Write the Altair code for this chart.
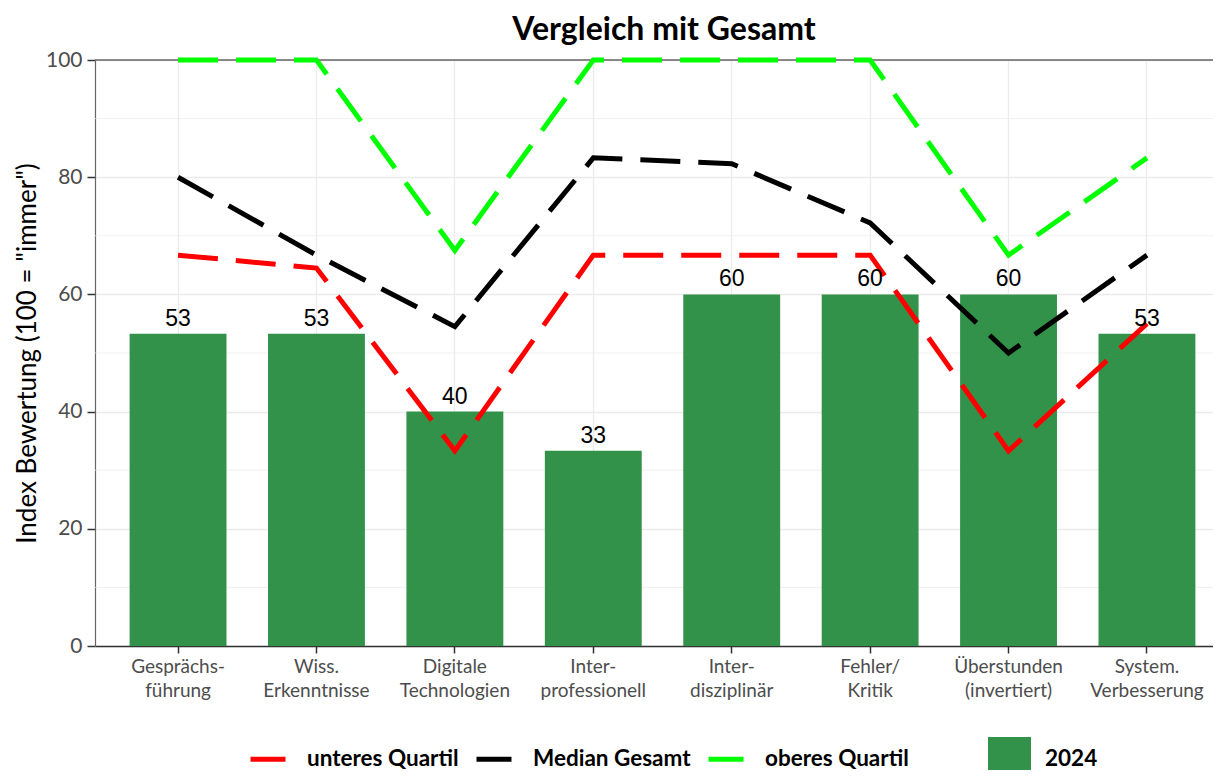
import altair as alt
import pandas as pd

categories = ["Gesprächs-|führung", "Wiss.|Erkenntnisse", "Digitale|Technologien",
              "Inter-|professionell", "Inter-|disziplinär", "Fehler/|Kritik",
              "Überstunden|(invertiert)", "System.|Verbesserung"]
values_2024 = [53.3, 53.3, 40.0, 33.3, 60.0, 60.0, 60.0, 53.3]
lower_quartile = [66.7, 64.5, 33.3, 66.7, 66.7, 66.7, 33.3, 55.0]
median_total = [80.0, 66.7, 54.5, 83.3, 82.3, 72.2, 50.0, 66.7]
upper_quartile = [100.0, 100.0, 67.5, 100.0, 100.0, 100.0, 66.7, 83.3]
series_names = ["unteres Quartil", "Median Gesamt", "oberes Quartil"]
series_colors = ["#FF0000", "#000000", "#00FF00"]
bar_series = "2024"
bar_color = "#33924A"
y_major = [0, 20, 40, 60, 80, 100]
y_minor = [10, 30, 50, 70, 90]
y_domain = [0, 100]

bars_df = pd.DataFrame({"category": categories, "value": values_2024,
                        "Jahr": [bar_series] * len(categories)})
rows = []
for name, vals in zip(series_names, [lower_quartile, median_total, upper_quartile]):
    for i, (c, v) in enumerate(zip(categories, vals)):
        rows.append({"category": c, "value": v, "Quartil": name, "idx": i})
lines_df = pd.DataFrame(rows)
minor_df = pd.DataFrame({"v": y_minor})
top_df = pd.DataFrame({"v": [y_domain[1]]})

FONT = "Lato"

x_enc = alt.X("category:N", sort=categories,
              scale=alt.Scale(type="band", range=[0, 1135], paddingInner=0.3, paddingOuter=0.25),
              axis=alt.Axis(title=None, labelExpr="split(datum.label, '|')", labelAngle=0,
                            labelFont=FONT, labelFontSize=19, labelColor="#4d4d4d",
                            labelLineHeight=24, labelPadding=4, labelBaseline="top",
                            tickSize=7, tickColor="#333333", tickWidth=1.5,
                            domainColor="#333333", domainWidth=1.5,
                            grid=True, gridColor="#ebebeb", gridWidth=1.3))
y_scale = alt.Scale(domain=y_domain, nice=False, zero=True)
y_axis = alt.Axis(title='Index Bewertung (100 = "immer")', values=y_major,
                  titleFont=FONT, titleFontSize=26, titleFontWeight="normal", titleColor="#000000",
                  titleX=-68, titleY=293, titleAlign="center", titleBaseline="middle", titleAngle=270,
                  labelFont=FONT, labelFontSize=21, labelColor="#4d4d4d", labelPadding=5,
                  tickSize=8, tickColor="#333333", tickWidth=1.5,
                  domainColor="#666666", domainWidth=1.2,
                  grid=True, gridColor="#ebebeb", gridWidth=1.3)

minor = alt.Chart(minor_df).mark_rule(color="#ebebeb", strokeWidth=0.7).encode(
    y=alt.Y("v:Q", scale=y_scale, axis=y_axis))
top = alt.Chart(top_df).mark_rule(color="#666666", strokeWidth=1.5).encode(
    y=alt.Y("v:Q", scale=y_scale))

bars = alt.Chart(bars_df).mark_bar().encode(
    x=x_enc,
    y=alt.Y("value:Q", scale=y_scale, title='Index Bewertung (100 = "immer")'),
    fill=alt.Fill("Jahr:N", scale=alt.Scale(domain=[bar_series], range=[bar_color]),
                  legend=alt.Legend(title=None, orient="none", legendX=893, legendY=677,
                                    symbolType="square", symbolSize=1849, symbolStrokeWidth=0,
                                    labelFont=FONT, labelFontSize=22.5, labelFontWeight="bold",
                                    labelColor="#000000", labelOffset=14, padding=0)))

lines = alt.Chart(lines_df).mark_line(strokeDash=[40, 18], strokeWidth=5, strokeCap="butt").encode(
    x=alt.X("category:N", sort=categories),
    y=alt.Y("value:Q", scale=y_scale),
    color=alt.Color("Quartil:N", sort=series_names,
                    scale=alt.Scale(domain=series_names, range=series_colors),
                    legend=alt.Legend(title=None, orient="none", legendX=153, legendY=679,
                                      direction="horizontal", symbolType="stroke",
                                      symbolSize=1225, symbolStrokeWidth=5, symbolDash=[200, 0],
                                      labelFont=FONT, labelFontSize=22.5, labelFontWeight="bold",
                                      labelColor="#000000", labelOffset=19, columnPadding=7,
                                      padding=0)),
    order=alt.Order("idx:Q"))

labels = alt.Chart(bars_df).mark_text(font="Liberation Sans", fontSize=23, color="#000000",
                                      baseline="alphabetic", dy=-8).encode(
    x=alt.X("category:N", sort=categories),
    y=alt.Y("value:Q", scale=y_scale),
    text=alt.Text("value:Q", format=".0f"))

chart = alt.layer(minor, top, bars, lines, labels).properties(
    width=1118, height=586,
    autosize=alt.AutoSizeParams(type="none"),
    padding={"left": 87, "top": 52, "right": 0, "bottom": 124},
    title=alt.TitleParams("Vergleich mit Gesamt", font=FONT, fontSize=32, fontWeight="bold",
                          color="#000000", anchor="middle", dx=10, offset=2),
).configure_view(stroke=None)

chart.save("out.html", embed_options={"renderer": "svg", "actions": False})
